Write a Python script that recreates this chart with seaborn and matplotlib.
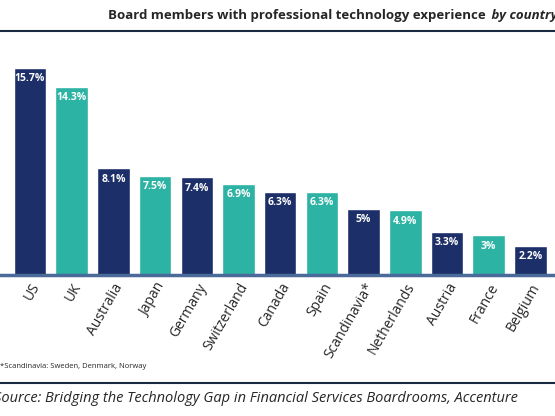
import matplotlib
matplotlib.use('Agg')
import matplotlib.pyplot as plt
import seaborn as sns
import pandas as pd

countries = ['US', 'UK', 'Australia', 'Japan', 'Germany', 'Switzerland', 'Canada', 'Spain',
             'Scandinavia*', 'Netherlands', 'Austria', 'France', 'Belgium', 'China']
values = [15.7, 14.3, 8.1, 7.5, 7.4, 6.9, 6.3, 6.3, 5.0, 4.9, 3.3, 3.0, 2.2, 1.6]
labels = ['15.7%', '14.3%', '8.1%', '7.5%', '7.4%', '6.9%', '6.3%', '6.3%', '5%', '4.9%',
          '3.3%', '3%', '2.2%', '1.6%']

navy = '#1c2f68'
teal = '#2cb3a4'
colors = [navy if i % 2 == 0 else teal for i in range(len(countries))]

df = pd.DataFrame({'country': countries, 'value': values})

sns.set_style('white')
plt.rcParams['font.family'] = ['Open Sans', 'DejaVu Sans']

fig = plt.figure(figsize=(5.55, 4.16), dpi=100)
ax = fig.add_axes([0, 1 - 275/416, 1, 224/416])
sns.barplot(data=df, x='country', y='value', hue='country', palette=colors, legend=False,
            width=0.78, saturation=1, ax=ax)

for i, (v, lab) in enumerate(zip(values, labels)):
    ax.text(i, v - 0.4, lab, ha='center', va='top', color='white', fontsize=7.5,
            fontweight='bold')

ax.set_xlim(-0.72, 12.59)
ax.set_ylim(0, 17)
ax.set_xlabel('')
ax.set_ylabel('')
ax.set_yticks([])
for s in ['top', 'right', 'left']:
    ax.spines[s].set_visible(False)
ax.spines['bottom'].set_color('#4a6a9a')
ax.spines['bottom'].set_linewidth(2.5)
ax.tick_params(axis='x', length=0, pad=4)
plt.setp(ax.get_xticklabels(), rotation=60, ha='right', rotation_mode='anchor', fontsize=10)

fig.text(0.535, 1 - 16/416, 'Board members with professional technology experience',
         ha='center', va='center', fontsize=9.5, fontweight='bold')
fig.text(0.879, 1 - 16/416, ' by country', ha='left', va='center', fontsize=9.5,
         fontweight='bold', style='italic')
fig.add_artist(plt.Line2D([0, 1], [1 - 31/416] * 2, color='#1a2a40', lw=1.5))
fig.text(0.0, 1 - 366/416, '*Scandinavia: Sweden, Denmark, Norway', ha='left', va='center',
         fontsize=5.5)
fig.add_artist(plt.Line2D([0, 1], [1 - 383/416] * 2, color='#1a2a40', lw=1.5))
fig.text(-0.01, 1 - 398/416,
         'Source: Bridging the Technology Gap in Financial Services Boardrooms, Accenture',
         ha='left', va='center', fontsize=10.5, style='italic')

fig.savefig('out.png', dpi=100)
